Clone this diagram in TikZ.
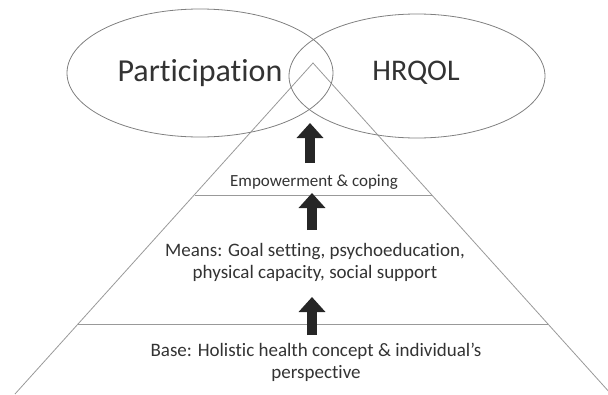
\documentclass[tikz,border=0pt]{standalone}
\usepackage{fontspec}
\setmainfont{Carlito}[Ligatures=NoCommon]
\usetikzlibrary{shapes.geometric,arrows.meta}

\begin{document}
\begin{tikzpicture}[x=1pt,y=-1pt,
  bubble/.style={ellipse, draw=black!50, line width=0.8pt, inner sep=0pt, text=black!80, font=\fontsize{32}{36}\selectfont},
  tier/.style={draw=black!40, line width=0.8pt},
  lbl/.style={text=black!80, align=center, inner sep=0pt, font=\fontsize{19}{22}\selectfont},
  uparrow/.style={draw=black!85, line width=10pt, -{Triangle[length=15pt,width=26pt]}}]
\useasboundingbox (0,0) rectangle (608,394);
\clip (0,0) rectangle (608,394);

% pyramid
\coordinate (apex) at (313,63);
\coordinate (bl) at (15,394);
\coordinate (br) at (611,394);
\draw[tier] (bl) -- (apex) -- (br);
\draw[tier] (195,195) -- (432,195);
\draw[tier] (78,324) -- (548,324);

% outcomes
\node[bubble, minimum width=266pt, minimum height=128pt] (part) at (200,73) {Participation};
\node[bubble, minimum width=256pt, minimum height=124pt] (hrqol) at (417,76) {};
\node[text=black!80, font=\fontsize{30}{36}\selectfont] (hrqoltxt) at (416,73) {HRQOL};

% tiers
\node[lbl, font=\fontsize{17}{20}\selectfont] (emp) at (314,182) {Empowerment \& coping};
\node[lbl] (means) at (315,262) {Means: Goal setting, psychoeducation,\\physical capacity, social support};
\node[lbl] (base) at (316,362) {Base: Holistic health concept \& individual’s\\perspective};

% arrows
\coordinate (a1s) at (310,163); \coordinate (a1e) at (310,123);
\coordinate (a2s) at (312,230); \coordinate (a2e) at (312,193);
\coordinate (a3s) at (312,335); \coordinate (a3e) at (312,297);
\draw[uparrow] (a1s) -- (a1e);
\draw[uparrow] (a2s) -- (a2e);
\draw[uparrow] (a3s) -- (a3e);
\end{tikzpicture}
\end{document}
